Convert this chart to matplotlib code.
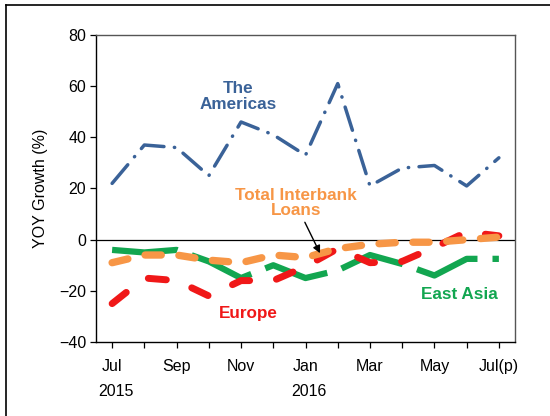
import numpy as np
import matplotlib.pyplot as plt
from matplotlib.lines import Line2D

plt.rcParams['font.family'] = ['Liberation Sans', 'DejaVu Sans']

months = ['Jul', 'Aug', 'Sep', 'Oct', 'Nov', 'Dec', 'Jan',
          'Feb', 'Mar', 'Apr', 'May', 'Jun', 'Jul(p)']
americas = [22, 37, 36, 25, 46, 41, 33, 61, 21, 28, 29, 21, 32]
europe = [-25, -15, -16, -22, -16, -16, -10.5, -3.5, -9, -8.5, -3, 3, 1.5]
east_asia = [-4, -5, -4, -8.5, -15, -10, -15, -12, -6, -9.5, -14, -7.5, -7.5]
total = [-9, -6, -6, -8, -9, -6, -7, -3.5, -1.8, -1, -1, 0, 1]

x = np.arange(len(months))

fig = plt.figure(figsize=(5.5, 4.16), dpi=100)
ax = fig.add_axes([96/550, 1 - 342/416, (515-96)/550, (342-35)/416])

# outer frame (only left/top visible in the crop)
fig.add_artist(Line2D([6/550, 6/550], [0, 1 - 5/416], color='black', lw=1.2))
fig.add_artist(Line2D([6/550, 1], [1 - 5/416, 1 - 5/416], color='black', lw=1.2))

ax.axhline(0, color='black', lw=0.9, zorder=1)

ax.plot(x, americas, color='#3A6298', lw=2.5, solid_capstyle='round',
        dash_capstyle='round', dashes=(7, 3, 0.1, 3), zorder=3)
ax.plot(x, east_asia, color='#12A650', lw=4.5, dash_capstyle='butt',
        dashes=(10.5, 2.4), zorder=2)
ax.plot(x, europe, color='#F01818', lw=5, dash_capstyle='round',
        dashes=(2.6, 3.9), zorder=4)
ax.plot(x, total, color='#F79646', lw=5.3, dash_capstyle='round',
        dashes=(2.2, 2.4), zorder=5)

ax.set_xlim(-0.5, 12.5)
ax.set_ylim(-40, 80)
ax.set_yticks(range(-40, 81, 20))
ax.set_xticks(x)
ax.set_xticklabels([m if i % 2 == 0 else '' for i, m in enumerate(months)])
ax.tick_params(direction='out', length=4, width=0.9, labelsize=11.5, pad=8)
ax.tick_params(axis='y', pad=3)
ax.set_ylabel('YOY Growth (%)', fontsize=11.5, labelpad=8)

for s in ['top', 'right']:
    ax.spines[s].set_color('#555555')
for s in ax.spines.values():
    s.set_linewidth(1.0)

ax.text(0.12, -0.16, '2015', transform=ax.get_xaxis_transform(),
        ha='center', va='center', fontsize=11.5)
ax.text(6.12, -0.16, '2016', transform=ax.get_xaxis_transform(),
        ha='center', va='center', fontsize=11.5)

ax.text(3.9, 56, 'The\nAmericas', color='#3A6298', fontsize=12.3,
        fontweight='bold', ha='center', va='center', linespacing=1.05)
ax.text(5.7, 14.3, 'Total Interbank\nLoans', color='#F79646', fontsize=12.3,
        fontweight='bold', ha='center', va='center', linespacing=1.05)
ax.text(4.22, -28.7, 'Europe', color='#F01818', fontsize=12.3,
        fontweight='bold', ha='center', va='center')
ax.text(10.78, -21.3, 'East Asia', color='#12A650', fontsize=12.3,
        fontweight='bold', ha='center', va='center')
ax.annotate('', xy=(6.45, -5.3), xytext=(5.98, 6.8),
            arrowprops=dict(arrowstyle='-|>', color='black', lw=1.0,
                            mutation_scale=11, shrinkA=0, shrinkB=0),
            zorder=6)

fig.savefig('out.png', dpi=100)
